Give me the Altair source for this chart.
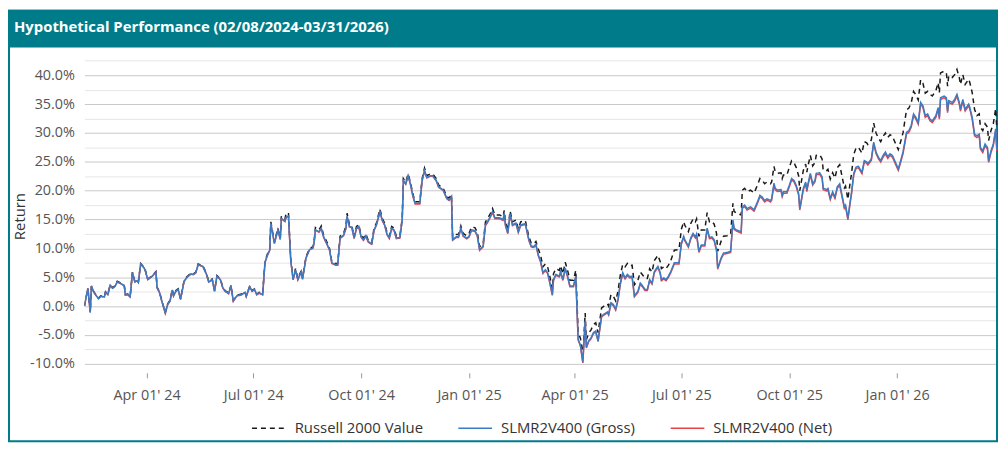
import altair as alt
import pandas as pd

START = "2024-02-08"
TITLE = "Hypothetical Performance (02/08/2024-03/31/2026)"

# days after 02/08/2024
day_offset = [
    0, 3, 5, 6, 8, 12, 14, 17, 18, 20, 22, 24, 26, 28, 32, 34, 35, 37, 39, 41,
    43, 45, 46, 48, 51, 52, 54, 56, 58, 61, 62, 64, 66, 69, 71, 73, 75, 76, 78, 80,
    82, 85, 87, 89, 91, 93, 95, 97, 101, 104, 106, 109, 111, 113, 116, 118, 120, 123, 125, 127,
    130, 134, 137, 138, 141, 143, 145, 147, 149, 152,
    154, 156, 158, 159, 162, 165, 167, 168, 171, 172, 174, 176, 178, 180, 182,
    185, 186, 189, 192, 195, 196, 197, 200, 202, 204, 207, 209, 211, 214, 216,
    218, 221, 223, 224, 226, 228, 230, 232, 234, 236, 238, 240, 242, 245, 247,
    249, 252, 254, 256, 258, 260, 262, 264, 266, 269, 271, 272, 274, 276, 278,
    280, 282, 286, 288, 290, 292, 295, 297, 300, 302, 304, 306, 309, 311, 313,
    314, 317, 319, 321, 323, 326, 328, 330,
    333, 335, 337, 340, 342, 344, 346, 348, 350, 354, 357, 358, 359, 361, 363,
    365, 368, 370, 372, 376, 379, 381, 383, 385, 387, 389, 391, 393, 395, 397,
    399, 400, 402, 405, 406, 408, 410, 412, 414, 417, 419, 421, 423, 425, 427,
    428, 430, 432, 434, 436, 438, 441, 443, 446, 447, 449, 451, 453, 455, 457,
    459, 461, 463, 465, 467, 469, 472, 474, 476, 478, 480, 482, 484, 486, 489,
    491, 492, 494, 496, 498, 500,
    503, 507, 509, 511, 512, 515, 517, 519, 521, 522, 524, 526, 529, 531, 533,
    535, 537, 539, 540, 543, 545, 548, 551, 553, 554, 556, 560, 561, 563, 565,
    568, 571, 574, 576, 578, 580, 582, 585, 586, 588, 589, 591, 594, 595, 596,
    599, 601, 603, 605, 607, 609, 610, 613, 615, 616, 617, 619, 621, 623, 624,
    627, 629, 630, 633, 634, 636, 638, 640, 642, 644, 646, 648, 649, 651, 653,
    654, 656, 658, 660,
    663, 665, 667, 668, 671, 673, 675, 677, 679, 681, 683, 685, 687, 689, 692,
    694, 696, 698, 701, 703, 705, 707, 709, 711, 713, 715, 717, 719, 721, 723,
    726, 728, 729, 730, 733, 735, 736, 737, 740, 742, 744, 746, 747, 749, 751,
    754, 755, 757, 759, 761, 763, 764, 766, 768, 770, 771, 773, 775, 777, 778,
]

gross = [
    0.0, 3.1, -1.1, 3.5, 2.4, 1.3, 1.7, 1.6, 2.4, 2.0, 3.6, 3.1, 3.4, 4.2, 3.8,
    3.5, 1.9, 2.0, 1.6, 5.8, 4.2, 4.4, 4.1, 7.3, 6.6, 6.1, 4.6, 4.9, 5.2, 5.9,
    3.2, 2.4, 0.9, -1.2, 0.3, 0.9, 2.8, 1.8, 2.6, 2.9, 1.2, 4.3, 4.9, 5.3, 5.6,
    5.5, 5.8, 7.2, 6.9, 5.6, 4.2, 4.6, 2.6, 5.2, 4.6, 3.2, 2.6, 2.2, 3.5, 0.9,
    1.8, 2.0, 2.4, 1.7, 3.4, 2.6, 2.9, 2.0, 2.3, 2.0,
    7.6, 8.8, 9.7, 14.3, 10.9, 13.2, 11.6, 15.2, 14.7, 15.4, 15.6, 7.8, 4.6, 6.3, 4.6,
    6.0, 4.7, 8.4, 9.8, 10.1, 11.2, 13.2, 12.9, 13.5, 12.0, 10.7, 9.8, 7.5, 7.2, 7.2,
    11.8, 12.3, 13.5, 15.6, 13.8, 13.7, 11.8, 13.5, 13.8, 12.0, 11.5, 12.2, 11.2, 10.8, 13.2,
    14.1, 16.4, 14.9, 14.1, 12.5, 11.8, 13.5, 13.2, 11.8, 11.9, 14.9, 21.8, 21.2, 22.6, 21.2,
    19.2, 17.8, 17.8, 21.8, 23.5, 22.3, 22.6, 22.6, 21.8, 20.7, 20.4, 20.1, 18.7, 18.4, 19.0,
    11.5, 12.0, 12.0, 13.5, 12.2, 11.8, 12.1, 13.2,
    13.1, 12.3, 9.8, 10.4, 14.1, 14.7, 15.5, 16.4, 15.3, 15.3, 15.0, 16.1, 14.1, 12.7, 16.0,
    14.1, 14.4, 12.9, 14.1, 14.3, 11.5, 10.4, 10.3, 10.7, 8.9, 7.8, 5.8, 6.3, 5.8, 4.0,
    2.0, 4.6, 5.5, 5.2, 6.0, 4.6, 6.6, 5.2, 3.5, 3.5, 5.2, -5.7, -6.8, -9.7, -2.5,
    -7.1, -6.0, -5.5, -4.6, -4.3, -6.0, -1.7, -1.4, -1.0, -1.4, 0.6, 0.3, -0.5, 1.2, 4.0,
    5.8, 4.9, 5.5, 5.1, 5.2, 1.8, 2.6, 4.0, 3.5, 2.9, 2.9, 4.6, 4.0, 6.0, 6.9,
    5.8, 4.6, 4.9, 4.6, 5.2, 6.0,
    7.5, 7.5, 10.9, 12.1, 11.5, 10.4, 11.8, 12.6, 12.0, 12.5, 9.5, 10.6, 10.6, 13.5, 11.9,
    12.0, 11.5, 9.8, 6.6, 8.4, 9.2, 9.3, 9.5, 14.9, 13.5, 13.2, 12.9, 17.2, 17.5, 16.9,
    17.2, 16.7, 18.1, 19.2, 18.9, 18.3, 18.6, 18.3, 18.6, 21.3, 20.4, 20.1, 20.2, 19.2, 19.8,
    19.8, 20.9, 22.1, 21.8, 20.9, 19.5, 16.9, 20.4, 21.5, 20.1, 21.2, 23.0, 21.2, 21.8, 23.0,
    23.1, 22.4, 20.4, 20.2, 20.4, 18.7, 19.8, 18.9, 20.7, 21.2, 19.2, 17.2, 17.5, 15.2, 18.2,
    19.5, 23.0, 24.1, 24.2,
    23.2, 25.2, 25.0, 24.7, 25.5, 28.4, 26.7, 25.8, 25.2, 26.1, 26.7, 25.9, 26.4, 26.1, 24.7,
    23.8, 25.2, 26.7, 30.1, 30.4, 31.3, 33.3, 32.7, 31.8, 35.3, 34.7, 33.0, 33.3, 32.4, 32.1,
    33.0, 34.4, 32.7, 36.1, 36.4, 36.1, 33.8, 35.6, 35.3, 35.8, 36.7, 35.3, 34.1, 35.8, 34.1,
    35.0, 34.4, 32.7, 29.8, 29.5, 29.8, 27.5, 26.9, 28.1, 27.5, 25.2, 26.9, 28.1, 30.7, 27.2,
]

bench = [
    0.0, 3.0, -1.0, 3.5, 2.5, 1.4, 1.8, 1.7, 2.5, 2.1, 3.7, 3.2, 3.5, 4.3, 3.9,
    3.6, 2.0, 2.1, 1.7, 5.9, 4.3, 4.5, 4.2, 7.4, 6.7, 6.2, 4.7, 5.0, 5.3, 6.0,
    3.3, 2.5, 1.0, -1.1, 0.4, 1.0, 2.9, 1.9, 2.7, 3.0, 1.3, 4.4, 5.0, 5.4, 5.7,
    5.6, 5.9, 7.3, 7.0, 5.7, 4.3, 4.7, 2.7, 5.3, 4.7, 3.3, 2.7, 2.3, 3.6, 1.0,
    1.9, 2.1, 2.5, 1.8, 3.5, 2.7, 3.0, 2.1, 2.4, 2.1,
    7.8, 9.0, 9.9, 14.6, 11.1, 13.5, 11.8, 15.6, 15.1, 16.0, 16.2, 8.0, 4.8, 6.5, 4.8,
    6.2, 4.9, 8.6, 10.0, 10.3, 11.5, 13.6, 13.2, 13.9, 12.3, 11.0, 10.0, 7.7, 7.4, 7.4,
    12.1, 12.6, 13.9, 16.1, 14.1, 14.0, 12.0, 13.8, 14.1, 12.2, 11.8, 12.5, 11.4, 11.0, 13.5,
    14.4, 16.8, 15.2, 14.4, 12.8, 12.1, 13.8, 13.5, 12.1, 12.2, 15.2, 22.1, 21.5, 22.9, 21.5,
    19.5, 18.1, 18.1, 22.1, 23.9, 22.6, 22.9, 22.9, 22.1, 21.0, 20.7, 20.4, 19.0, 18.7, 19.3,
    11.9, 12.4, 12.4, 13.9, 12.6, 12.2, 12.6, 13.7,
    13.6, 12.8, 10.3, 10.9, 14.6, 15.2, 16.0, 16.9, 15.8, 15.8, 15.5, 16.6, 14.6, 13.2, 16.5,
    14.6, 14.9, 13.4, 14.6, 14.8, 12.0, 10.9, 10.8, 11.2, 9.9, 8.8, 6.8, 7.3, 6.8, 5.0,
    3.0, 5.6, 6.5, 6.2, 7.0, 5.6, 7.6, 6.2, 4.5, 4.5, 6.2, -4.5, -5.6, -8.6, -1.2,
    -5.8, -4.7, -4.1, -3.2, -2.9, -4.6, -0.3, 0.0, 0.4, 0.0, 2.0, 1.7, 0.9, 2.6, 5.4,
    7.2, 6.8, 7.4, 7.0, 7.1, 3.7, 4.5, 5.9, 5.4, 4.8, 4.8, 6.5, 5.9, 7.9, 8.8,
    7.7, 6.5, 6.8, 6.5, 7.1, 7.9,
    9.7, 9.8, 13.3, 14.6, 14.0, 12.9, 14.3, 15.1, 14.6, 15.1, 12.1, 13.2, 13.2, 16.2, 14.6,
    14.7, 14.2, 12.6, 9.5, 11.3, 12.1, 12.2, 12.4, 17.8, 16.4, 16.1, 15.8, 20.1, 20.4, 19.8,
    20.1, 19.6, 21.0, 22.1, 21.8, 21.2, 21.5, 21.2, 21.5, 24.2, 23.3, 23.0, 23.1, 22.1, 22.7,
    22.7, 24.0, 25.2, 24.9, 24.0, 22.6, 20.0, 23.5, 24.6, 23.2, 24.3, 26.1, 24.3, 24.9, 26.1,
    26.2, 25.5, 23.5, 23.5, 23.7, 22.0, 23.1, 22.2, 24.0, 24.5, 22.5, 20.5, 20.8, 18.5, 21.5,
    22.8, 26.3, 27.4, 27.5,
    26.5, 28.5, 28.3, 28.0, 28.8, 31.7, 30.0, 29.1, 28.5, 29.4, 30.0, 29.2, 29.7, 29.4, 28.0,
    27.1, 28.5, 30.0, 34.0, 34.3, 35.2, 37.2, 36.6, 35.7, 39.2, 38.6, 36.9, 37.2, 36.7, 36.4,
    37.3, 38.7, 37.0, 40.4, 40.7, 40.4, 38.1, 39.9, 39.6, 40.1, 41.0, 39.6, 38.4, 40.1, 38.4,
    39.3, 38.7, 37.0, 34.1, 33.0, 33.3, 31.0, 30.4, 31.6, 31.0, 28.7, 30.4, 31.6, 34.2, 30.7,
]

net = [
    0.0, 3.1, -1.1, 3.5, 2.4, 1.3, 1.7, 1.6, 2.4, 2.0, 3.6, 3.1, 3.4, 4.2, 3.8,
    3.5, 1.9, 2.0, 1.6, 5.8, 4.2, 4.4, 4.1, 7.3, 6.6, 6.1, 4.6, 4.9, 5.2, 5.9,
    3.15, 2.35, 0.85, -1.25, 0.25, 0.85, 2.75, 1.75, 2.55, 2.85, 1.15, 4.25, 4.85, 5.25, 5.55,
    5.45, 5.75, 7.15, 6.85, 5.55, 4.15, 4.55, 2.55, 5.15, 4.55, 3.15, 2.55, 2.15, 3.45, 0.85,
    1.75, 1.95, 2.35, 1.65, 3.35, 2.55, 2.85, 1.95, 2.25, 1.95,
    7.55, 8.75, 9.65, 14.25, 10.85, 13.15, 11.55, 15.15, 14.65, 15.35, 15.55, 7.75, 4.55, 6.25, 4.55,
    5.95, 4.65, 8.35, 9.75, 10.05, 11.15, 13.15, 12.8, 13.4, 11.9, 10.6, 9.7, 7.4, 7.1, 7.1,
    11.7, 12.2, 13.4, 15.5, 13.7, 13.6, 11.7, 13.4, 13.7, 11.9, 11.4, 12.1, 11.1, 10.7, 13.1,
    14.0, 16.3, 14.8, 14.0, 12.4, 11.7, 13.4, 13.1, 11.7, 11.8, 14.8, 21.7, 21.1, 22.5, 21.1,
    19.1, 17.7, 17.7, 21.7, 23.4, 22.2, 22.5, 22.5, 21.7, 20.6, 20.3, 20.0, 18.6, 18.3, 18.9,
    11.4, 11.9, 11.9, 13.4, 12.1, 11.65, 11.95, 13.05,
    12.95, 12.15, 9.65, 10.25, 13.95, 14.55, 15.35, 16.25, 15.15, 15.15, 14.85, 15.95, 13.95, 12.55, 15.85,
    13.95, 14.25, 12.75, 13.95, 14.15, 11.35, 10.25, 10.15, 10.55, 8.75, 7.65, 5.65, 6.15, 5.65, 3.85,
    1.85, 4.45, 5.35, 5.05, 5.85, 4.45, 6.45, 5.05, 3.35, 3.35, 5.05, -5.85, -6.95, -9.85, -2.65,
    -7.25, -6.15, -5.65, -4.75, -4.45, -6.15, -1.85, -1.55, -1.15, -1.55, 0.4, 0.1, -0.7, 1.0, 3.8,
    5.6, 4.7, 5.3, 4.9, 5.0, 1.6, 2.4, 3.8, 3.3, 2.7, 2.7, 4.4, 3.8, 5.8, 6.7,
    5.6, 4.4, 4.7, 4.4, 5.0, 5.8,
    7.3, 7.3, 10.7, 11.9, 11.3, 10.2, 11.6, 12.4, 11.8, 12.3, 9.3, 10.4, 10.4, 13.3, 11.7,
    11.8, 11.3, 9.6, 6.4, 8.2, 9.0, 9.1, 9.3, 14.7, 13.3, 13.0, 12.65, 16.95, 17.25, 16.65,
    16.95, 16.45, 17.85, 18.95, 18.65, 18.05, 18.35, 18.05, 18.35, 21.05, 20.15, 19.85, 19.95, 18.95, 19.55,
    19.55, 20.65, 21.85, 21.55, 20.65, 19.25, 16.65, 20.15, 21.25, 19.85, 20.95, 22.75, 20.95, 21.55, 22.75,
    22.85, 22.15, 20.15, 19.95, 20.15, 18.45, 19.55, 18.65, 20.45, 20.95, 18.95, 16.95, 17.25, 14.95, 17.95,
    19.25, 22.75, 23.85, 23.95,
    22.95, 24.95, 24.75, 24.45, 25.25, 28.15, 26.45, 25.55, 24.95, 25.8, 26.4, 25.6, 26.1, 25.8, 24.4,
    23.5, 24.9, 26.4, 29.8, 30.1, 31.0, 33.0, 32.4, 31.5, 35.0, 34.4, 32.7, 33.0, 32.1, 31.8,
    32.7, 34.1, 32.4, 35.8, 36.1, 35.8, 33.5, 35.3, 35.0, 35.5, 36.4, 35.0, 33.8, 35.5, 33.8,
    34.7, 34.1, 32.4, 29.5, 29.2, 29.5, 27.2, 26.6, 27.8, 27.2, 24.9, 26.6, 27.8, 30.4, 26.9,
]

series_names = ["Russell 2000 Value", "SLMR2V400 (Gross)", "SLMR2V400 (Net)"]
series_colors = ["#1a1a1a", "#3a7cc4", "#e8434a"]
series_dash = [[5, 4], [1, 0], [1, 0]]

y_tick_values = [-10, -7.5, -5, -2.5, 0, 2.5, 5, 7.5, 10, 12.5, 15, 17.5, 20,
                 22.5, 25, 27.5, 30, 32.5, 35, 37.5, 40, 42.5]
y_domain = [-11.55, 42.75]
x_tick_dates = [(2024, 4, 1), (2024, 7, 1), (2024, 10, 1), (2025, 1, 1),
                (2025, 4, 1), (2025, 7, 1), (2025, 10, 1), (2026, 1, 1)]
x_domain = [(2024, 2, 8), (2026, 3, 28)]

n = len(day_offset)
for name, arr in (("gross", gross), ("bench", bench), ("net", net)):
    if len(arr) != n:
        raise SystemExit(f"length mismatch {name}: {len(arr)} vs {n}")

dates = (pd.Timestamp(START) + pd.to_timedelta(day_offset, unit="D")).strftime("%Y-%m-%d")
frames = []
for name, vals in zip(series_names, [bench, gross, net]):
    frames.append(pd.DataFrame({"date": dates, "value": vals, "series": name}))
df = pd.concat(frames, ignore_index=True)

TEAL = "#007b8a"
W, H = 921, 316
PAD_L, PAD_T, PAD_B = 77, 50, 70


def dt(t):
    return alt.DateTime(year=t[0], month=t[1], date=t[2], utc=True)


legend = alt.Legend(
    title=None, orient="none", direction="horizontal", legendX=168, legendY=354,
    symbolType="stroke", symbolSize=1156, symbolStrokeWidth=1.5,
    labelFontSize=15, labelColor="#333333", labelOffset=8, columnPadding=32,
    labelFont="Open Sans",
)

x_enc = alt.X(
    "date:T",
    scale=alt.Scale(type="utc", domain=[dt(x_domain[0]), dt(x_domain[1])]),
    axis=alt.Axis(
        values=[dt(t) for t in x_tick_dates],
        labelExpr="utcFormat(datum.value, \"%b %d' %y\")",
        grid=False, domain=False, ticks=True, tickSize=5, tickColor="#999999",
        labelFontSize=14.5, labelColor="#555555", labelPadding=11, title=None,
        labelFlush=False,
    ),
)
y_enc = alt.Y(
    "value:Q",
    scale=alt.Scale(domain=y_domain, nice=False, zero=False),
    axis=alt.Axis(
        values=y_tick_values,
        labelExpr="abs(datum.value % 5) < 0.01 ? (datum.value < 0 ? '-' : '') + format(abs(datum.value), '.1f') + '%' : ''",
        gridColor={"condition": {"test": "abs(datum.value % 5) < 0.01", "value": "#c8c8c8"}, "value": "#e6e6e6"},
        gridWidth=1, domain=False, ticks=False, labelPadding=10,
        labelFontSize=14.5, labelColor="#555555",
        title="Return", titleFontSize=15, titleFontWeight="normal", titleColor="#333333",
        titlePadding=2,
    ),
)
color_enc = alt.Color("series:N", scale=alt.Scale(domain=series_names, range=series_colors), legend=legend)
dash_enc = alt.StrokeDash("series:N", scale=alt.Scale(domain=series_names, range=series_dash), legend=legend)

base = alt.Chart(df).mark_line(strokeWidth=1.5, clip=True).encode(
    x=x_enc, y=y_enc, color=color_enc, strokeDash=dash_enc
)
net_layer = base.transform_filter(alt.datum.series == series_names[2])
gross_layer = base.transform_filter(alt.datum.series == series_names[1])
bench_layer = base.transform_filter(alt.datum.series == series_names[0])

one = alt.Data(values=[{"k": 1}])
header = alt.Chart(one).mark_rect(color=TEAL).encode(
    x=alt.value(-PAD_L), x2=alt.value(W), y=alt.value(-PAD_T), y2=alt.value(-12)
)
title = alt.Chart(one).mark_text(
    align="left", baseline="middle", color="white", fontSize=15, fontWeight="bold", font="Open Sans"
).encode(x=alt.value(-71), y=alt.value(-33), text=alt.value(TITLE))
border = alt.Chart(one).mark_rect(filled=False, stroke=TEAL, strokeWidth=2).encode(
    x=alt.value(-PAD_L + 1), x2=alt.value(W - 1), y=alt.value(-PAD_T + 1), y2=alt.value(H + PAD_B - 1)
)

chart = alt.layer(header, border, bench_layer, net_layer, gross_layer, title).properties(
    width=W, height=H,
    autosize=alt.AutoSizeParams(type="none"),
    padding={"left": PAD_L, "top": PAD_T, "right": 0, "bottom": PAD_B},
    background="white",
).configure(font="Open Sans").configure_view(stroke=None)

chart.save("out.html", embed_options={"renderer": "svg", "actions": False})
